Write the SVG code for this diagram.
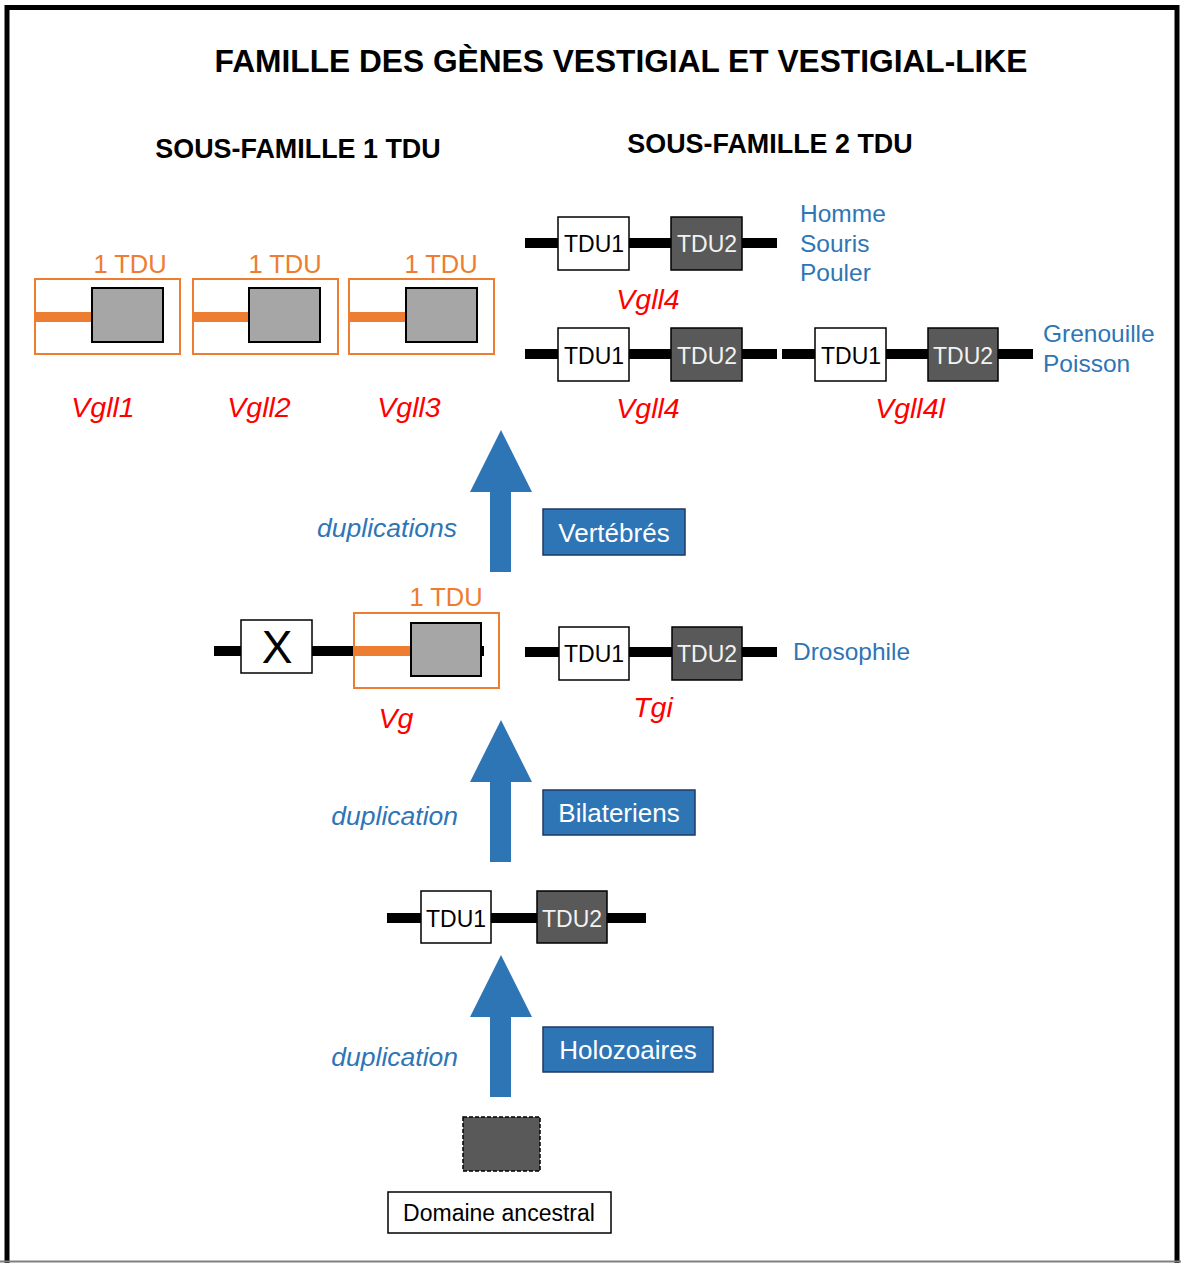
<svg xmlns="http://www.w3.org/2000/svg" width="1181" height="1263" viewBox="0 0 1181 1263">
<style>
text{font-family:"Liberation Sans",Arial,sans-serif}
.h{font-weight:bold;fill:#000}
.o{fill:#ED7D31;font-size:25.5px}
.r{fill:#FF0000;font-style:italic;font-size:28.5px}
.b{fill:#2E75B6;font-size:24.5px}
.bi{fill:#2E75B6;font-style:italic;font-size:26.5px}
.w{fill:#fff;font-size:26px}
.t{font-size:23px}
.frame{fill:none;stroke:#ED7D31;stroke-width:2}
.gray{fill:#A6A6A6;stroke:#000;stroke-width:2}
.white{fill:#fff;stroke:#000;stroke-width:1.5}
.dark{fill:#595959;stroke:#000;stroke-width:1.5}
.bl{stroke:#000;stroke-width:10}
.ol{stroke:#ED7D31;stroke-width:10}
.bb{fill:#2E75B6;stroke:#1F3864;stroke-width:1.5}
.arr{fill:#2E75B6}
</style>
<rect x="0" y="0" width="1181" height="1263" fill="#fff"/>
<rect x="7" y="7.5" width="1170" height="1290" fill="none" stroke="#000" stroke-width="5"/>
<line x1="0" y1="1261.5" x2="1181" y2="1261.5" stroke="#808080" stroke-width="2"/>

<g id="titles">
<text class="h" x="621" y="72" font-size="31.7" text-anchor="middle">FAMILLE DES GÈNES VESTIGIAL ET VESTIGIAL-LIKE</text>
<text class="h" x="298" y="158" font-size="26.9" text-anchor="middle">SOUS-FAMILLE 1 TDU</text>
<text class="h" x="770" y="153" font-size="26.9" text-anchor="middle">SOUS-FAMILLE 2 TDU</text>
</g>

<g id="vgll1">
<text class="o" x="130" y="273" text-anchor="middle">1 TDU</text>
<rect class="frame" x="35" y="279" width="145" height="75"/>
<line class="ol" x1="36" y1="317" x2="92" y2="317"/>
<rect class="gray" x="92" y="288" width="71" height="54"/>
<text class="r" x="103" y="417" text-anchor="middle">Vgll1</text>
</g>
<g id="vgll2">
<text class="o" x="285" y="273" text-anchor="middle">1 TDU</text>
<rect class="frame" x="193" y="279" width="145" height="75"/>
<line class="ol" x1="194" y1="317" x2="249" y2="317"/>
<rect class="gray" x="249" y="288" width="71" height="54"/>
<text class="r" x="259" y="417" text-anchor="middle">Vgll2</text>
</g>
<g id="vgll3">
<text class="o" x="441" y="273" text-anchor="middle">1 TDU</text>
<rect class="frame" x="349" y="279" width="145" height="75"/>
<line class="ol" x1="350" y1="317" x2="406" y2="317"/>
<rect class="gray" x="406" y="288" width="71" height="54"/>
<text class="r" x="409" y="417" text-anchor="middle">Vgll3</text>
</g>

<g id="vgll4-a">
<line class="bl" x1="525" y1="243" x2="777" y2="243"/>
<rect class="white" x="558" y="217" width="71" height="53"/>
<text class="t" x="594" y="252" text-anchor="middle">TDU1</text>
<rect class="dark" x="671" y="217" width="71" height="53"/>
<text class="t" x="707" y="252" text-anchor="middle" fill="#f2f2f2">TDU2</text>
<text class="r" x="648" y="309" text-anchor="middle">Vgll4</text>
<text class="b" x="800" y="222">Homme</text>
<text class="b" x="800" y="252">Souris</text>
<text class="b" x="800" y="281">Pouler</text>
</g>

<g id="vgll4-b">
<line class="bl" x1="525" y1="354" x2="777" y2="354"/>
<rect class="white" x="558" y="328" width="71" height="53"/>
<text class="t" x="594" y="364" text-anchor="middle">TDU1</text>
<rect class="dark" x="671" y="328" width="71" height="53"/>
<text class="t" x="707" y="364" text-anchor="middle" fill="#f2f2f2">TDU2</text>
<text class="r" x="648" y="418" text-anchor="middle">Vgll4</text>
</g>
<g id="vgll4l">
<line class="bl" x1="782" y1="354" x2="1033" y2="354"/>
<rect class="white" x="815" y="328" width="71" height="53"/>
<text class="t" x="851" y="364" text-anchor="middle">TDU1</text>
<rect class="dark" x="928" y="328" width="70" height="53"/>
<text class="t" x="963" y="364" text-anchor="middle" fill="#f2f2f2">TDU2</text>
<text class="r" x="910" y="418" text-anchor="middle">Vgll4l</text>
<text class="b" x="1043" y="342">Grenouille</text>
<text class="b" x="1043" y="372">Poisson</text>
</g>

<g id="vg">
<line class="bl" x1="214" y1="651" x2="484" y2="651"/>
<rect class="white" x="241" y="620" width="71" height="53"/>
<text x="277" y="663" font-size="46" text-anchor="middle">X</text>
<text class="o" x="446" y="606" text-anchor="middle">1 TDU</text>
<rect x="354" y="613" width="145" height="75" fill="#fff" stroke="#ED7D31" stroke-width="2"/>
<line class="ol" x1="355" y1="651" x2="411" y2="651"/>
<line class="bl" x1="478" y1="651" x2="484" y2="651"/>
<rect class="gray" x="411" y="623" width="70" height="53"/>
<text class="r" x="396" y="728" text-anchor="middle">Vg</text>
</g>

<g id="tgi">
<line class="bl" x1="525" y1="652" x2="777" y2="652"/>
<rect class="white" x="559" y="627" width="70" height="53"/>
<text class="t" x="594" y="662" text-anchor="middle">TDU1</text>
<rect class="dark" x="672" y="627" width="70" height="53"/>
<text class="t" x="707" y="662" text-anchor="middle" fill="#f2f2f2">TDU2</text>
<text class="r" x="653" y="717" text-anchor="middle">Tgi</text>
<text class="b" x="793" y="660">Drosophile</text>
</g>

<g id="ancestor-2tdu">
<line class="bl" x1="387" y1="918" x2="646" y2="918"/>
<rect class="white" x="421" y="891" width="70" height="52"/>
<text class="t" x="456" y="927" text-anchor="middle">TDU1</text>
<rect class="dark" x="537" y="891" width="70" height="52"/>
<text class="t" x="572" y="927" text-anchor="middle" fill="#f2f2f2">TDU2</text>
</g>

<g id="ancestral-domain">
<rect x="463" y="1117" width="77" height="54" fill="#595959" stroke="#000" stroke-width="1.5" stroke-dasharray="4,2"/>
<rect x="388" y="1192" width="223" height="41" fill="#fff" stroke="#000" stroke-width="1.5"/>
<text class="t" x="499" y="1221" text-anchor="middle">Domaine ancestral</text>
</g>

<g id="connectors">
<polygon class="arr" points="501,430 532,492 511,492 511,572 490,572 490,492 470,492"/>
<polygon class="arr" points="501,720 532,782 511,782 511,862 490,862 490,782 470,782"/>
<polygon class="arr" points="501,955 532,1017 511,1017 511,1097 490,1097 490,1017 470,1017"/>
</g>

<g id="label-vertebres">
<text class="bi" x="457" y="537" text-anchor="end">duplications</text>
<rect class="bb" x="543" y="509" width="142" height="46"/>
<text class="w" x="614" y="542" text-anchor="middle">Vertébrés</text>
</g>
<g id="label-bilateriens">
<text class="bi" x="458" y="825" text-anchor="end">duplication</text>
<rect class="bb" x="543" y="790" width="152" height="45"/>
<text class="w" x="619" y="822" text-anchor="middle">Bilateriens</text>
</g>
<g id="label-holozoaires">
<text class="bi" x="458" y="1066" text-anchor="end">duplication</text>
<rect class="bb" x="543" y="1027" width="170" height="45"/>
<text class="w" x="628" y="1059" text-anchor="middle">Holozoaires</text>
</g>
</svg>
